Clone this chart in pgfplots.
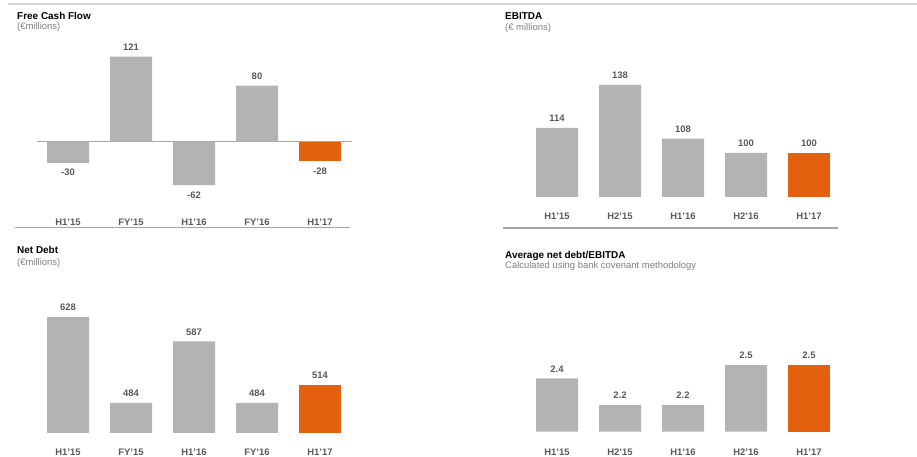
\documentclass[border=0pt]{standalone}
\usepackage{fontspec}
\setmainfont{Liberation Sans}
\usepackage{pgfplots}
\pgfplotsset{compat=1.18}
\definecolor{bargray}{HTML}{B3B3B3}
\definecolor{barorange}{HTML}{E3600F}
\definecolor{lblgray}{HTML}{595959}
\definecolor{subgray}{HTML}{7F7F7F}
\definecolor{rulegray}{HTML}{A6A6A6}
\definecolor{topgray}{HTML}{D4D4D4}
\pgfplotsset{
  panel/.style={
    scale only axis, width=315bp, xmin=-0.5, xmax=4.5,
    anchor=south west, ybar, bar width=42bp, clip=true,
    axis line style={draw=none}, tick style={draw=none},
    ytick=\empty, xtick={0,1,2,3,4},
    nodes near coords,
    /pgf/number format/assume math mode=true,
    every node near coord/.append style={font=\fontsize{9.5}{10}\selectfont\bfseries, text=lblgray, inner sep=6bp},
    xticklabel style={font=\fontsize{9.5}{10}\selectfont\bfseries, text=lblgray, anchor=center},
  },
  grayb/.style={fill=bargray, draw=none, bar shift=0pt},
  orb/.style={fill=barorange, draw=none, bar shift=0pt},
}
\newcommand{\ttl}[1]{{\fontsize{10}{12}\selectfont\bfseries #1}}
\newcommand{\sub}[1]{{\fontsize{9.5}{12}\selectfont\color{subgray} #1}}
\begin{document}
\begin{tikzpicture}[x=1bp,y=1bp]
\useasboundingbox (0,0) rectangle (917,457);
\draw[topgray, line width=2bp] (8,453) -- (917,453);
\draw[rulegray, line width=1.5bp] (15,229.3) -- (350,229.3);
\draw[rulegray, line width=1.5bp] (503,229) -- (838,229);
% titles
\node[anchor=base west, inner sep=0] at (17,437.5) {\ttl{Free Cash Flow}};
\node[anchor=base west, inner sep=0] at (17,427) {\sub{(€millions)}};
\node[anchor=base west, inner sep=0] at (505,437) {\ttl{EBITDA}};
\node[anchor=base west, inner sep=0] at (505,426) {\sub{(€ millions)}};
\node[anchor=base west, inner sep=0] at (17,203) {\ttl{Net Debt}};
\node[anchor=base west, inner sep=0] at (17,191) {\sub{(€millions)}};
\node[anchor=base west, inner sep=0] at (505,198.5) {\ttl{Average net debt/EBITDA}};
\node[anchor=base west, inner sep=0] at (505,188) {\sub{Calculated using bank covenant methodology}};

% Free Cash Flow
\begin{axis}[panel, at={(36.5bp,252.1bp)}, height=165bp, ymin=-90, ymax=145,
  xticklabels={H1'15,FY'15,H1'16,FY'16,H1'17},
  xticklabel style={yshift=-13.5bp}]
\draw[rulegray, line width=1.2bp] (axis cs:-0.5,0) -- (axis cs:4.5,0);
\addplot[grayb] coordinates {(0,-30) (1,121) (2,-62) (3,80)};
\addplot[orb] coordinates {(4,-28)};
\end{axis}

% EBITDA
\begin{axis}[panel, at={(525.5bp,260bp)}, height=156.8bp, ymin=75.4, ymax=163,
  xticklabels={H1'15,H2'15,H1'16,H2'16,H1'17},
  xticklabel style={yshift=-15.3bp}]
\addplot[grayb] coordinates {(0,114) (1,138) (2,108) (3,100)};
\addplot[orb] coordinates {(4,100)};
\end{axis}

% Net Debt
\begin{axis}[panel, at={(36.5bp,24bp)}, height=153bp, ymin=433.7, ymax=690,
  xticklabels={H1'15,FY'15,H1'16,FY'16,H1'17},
  xticklabel style={yshift=-14.8bp}]
\addplot[grayb] coordinates {(0,628) (1,484) (2,587) (3,484)};
\addplot[orb] coordinates {(4,514)};
\end{axis}

% Average net debt / EBITDA
\begin{axis}[panel, at={(525.5bp,25.3bp)}, height=141bp, ymin=2.0, ymax=3.06,
  xticklabels={H1'15,H2'15,H1'16,H2'16,H1'17},
  xticklabel style={yshift=-16.5bp},
  /pgf/number format/.cd, fixed, precision=1, fixed zerofill]
\addplot[grayb] coordinates {(0,2.4) (1,2.2) (2,2.2) (3,2.5)};
\addplot[orb] coordinates {(4,2.5)};
\end{axis}
\end{tikzpicture}
\end{document}
